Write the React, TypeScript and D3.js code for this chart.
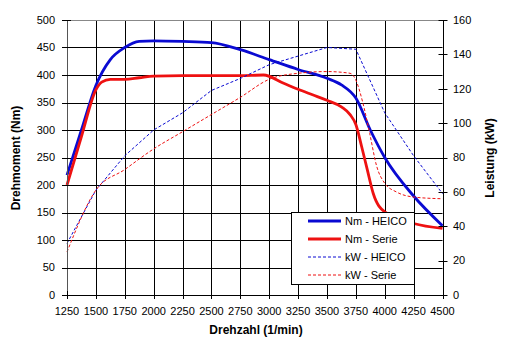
import React from "react";
import * as d3 from "d3";

const rpmTicks = [1250, 1500, 1750, 2000, 2250, 2500, 2750, 3000, 3250, 3500, 3750, 4000, 4250, 4500];
const nmTicks = [0, 50, 100, 150, 200, 250, 300, 350, 400, 450, 500];
const kwTicks = [0, 20, 40, 60, 80, 100, 120, 140, 160];

const rpmNmHeico = [1250, 1375, 1500, 1625, 1750, 1875, 2000, 2250, 2500, 2750, 3000, 3250, 3500, 3625, 3750, 3875, 4000, 4250, 4500];
const nmHeico = [218, 300, 381, 428, 450, 461, 462, 461, 459, 446, 428, 410, 394, 382, 358, 300, 250, 180, 126];

const rpmNmSerie = [1250, 1375, 1500, 1550, 1625, 1750, 1875, 2000, 2250, 2500, 2750, 2950, 3125, 3250, 3375, 3500, 3625, 3700, 3750, 3800, 3850, 3900, 4000, 4250, 4500];
const nmSerie = [200, 288, 373, 387, 392, 392, 395, 398, 399, 399, 399, 400, 385, 374, 364, 354, 342, 328, 310, 270, 227, 185, 151, 130, 121];

const rpmKwHeico = [1250, 1500, 1750, 2000, 2250, 2500, 2750, 3000, 3250, 3500, 3750, 4000, 4250, 4500];
const kwHeico = [30, 61, 81, 96, 106, 119, 126, 134, 139, 144, 143, 106, 81, 59];

const rpmKwSerie = [1250, 1500, 1750, 2000, 2250, 2500, 2750, 3000, 3250, 3500, 3700, 3750, 3810, 3870, 3930, 4000, 4100, 4250, 4500];
const kwSerie = [25, 61, 73, 85, 95, 105, 115, 125.5, 129, 130, 129, 125, 112, 94, 75, 65, 60, 57, 56];

const legendLabels = ["Nm - HEICO", "Nm - Serie", "kW - HEICO", "kW - Serie"];

const BLUE = "#0a0ad2";
const RED = "#ee1111";
const FONT = "'Liberation Sans', Arial, sans-serif";

export default function App() {
  const W = 511, H = 352;
  const x = d3.scaleLinear().domain([1250, 4500]).range([67, 442.5]);
  const yL = d3.scaleLinear().domain([0, 500]).range([295, 20]);
  const yR = d3.scaleLinear().domain([0, 160]).range([295, 20]);

  const mk = (xs: number[], ys: number[], ys2: (v: number) => number, curve: any) =>
    d3.line<number>().x((_, i) => x(xs[i])).y((v) => ys2(v)).curve(curve)(ys) || "";

  const series = [
    { d: mk(rpmNmHeico, nmHeico, yL, d3.curveMonotoneX), color: BLUE, w: 2.8, dash: undefined },
    { d: mk(rpmNmSerie, nmSerie, yL, d3.curveMonotoneX), color: RED, w: 2.8, dash: undefined },
    { d: mk(rpmKwHeico, kwHeico, yR, d3.curveLinear), color: BLUE, w: 1, dash: "3,2" },
    { d: mk(rpmKwSerie, kwSerie, yR, d3.curveMonotoneX), color: RED, w: 1, dash: "3,2" },
  ];

  const x0 = x(1250), x1 = x(4500), y0 = yL(0), y1 = yL(500);
  const lg = { x: 291, y: 212, w: 123, h: 72 };

  return (
    <svg width={W} height={H} style={{ position: "absolute", left: 0, top: 0, background: "#fff" }} fontFamily={FONT}>
      <rect x={0} y={0} width={W} height={H} fill="#fff" />
      {nmTicks.filter((t) => t > 0 && t < 500).map((t) => (
        <line key={"h" + t} x1={x0} x2={x1} y1={Math.round(yL(t)) + 0.5} y2={Math.round(yL(t)) + 0.5} stroke="#000" strokeWidth={1} />
      ))}
      {rpmTicks.filter((t) => t > 1250 && t < 4500).map((t) => (
        <line key={"v" + t} x1={Math.round(x(t)) + 0.5} x2={Math.round(x(t)) + 0.5} y1={y1} y2={y0} stroke="#000" strokeWidth={1} />
      ))}
      <line x1={x0} x2={x1} y1={Math.round(y1) + 0.5} y2={Math.round(y1) + 0.5} stroke="#888" strokeWidth={1} />
      {series.map((s, i) => (
        <path key={i} d={s.d} fill="none" stroke={s.color} strokeWidth={s.w} strokeDasharray={s.dash} strokeLinejoin="round" />
      ))}
      <line x1={Math.round(x0) + 0.5} x2={Math.round(x0) + 0.5} y1={y1} y2={y0} stroke="#555" strokeWidth={1} />
      <line x1={Math.round(x1) + 0.5} x2={Math.round(x1) + 0.5} y1={y1} y2={y0} stroke="#000" strokeWidth={1} />
      <line x1={x0} x2={x1} y1={Math.round(y0) + 0.5} y2={Math.round(y0) + 0.5} stroke="#000" strokeWidth={1} />
      {nmTicks.map((t) => (
        <g key={"l" + t}>
          <line x1={62} x2={71} y1={Math.round(yL(t)) + 0.5} y2={Math.round(yL(t)) + 0.5} stroke="#000" />
          <text x={55} y={yL(t)} dy="0.35em" textAnchor="end" fontSize={11}>{t}</text>
        </g>
      ))}
      {kwTicks.map((t) => (
        <g key={"r" + t}>
          <line x1={x1 - 4} x2={x1 + 5} y1={Math.round(yR(t)) + 0.5} y2={Math.round(yR(t)) + 0.5} stroke="#000" />
          <text x={453} y={yR(t)} dy="0.35em" textAnchor="start" fontSize={11}>{t}</text>
        </g>
      ))}
      {rpmTicks.map((t) => (
        <g key={"b" + t}>
          <line x1={Math.round(x(t)) + 0.5} x2={Math.round(x(t)) + 0.5} y1={y0 - 4} y2={y0 + 4} stroke="#000" />
          <text x={x(t)} y={315} textAnchor="middle" fontSize={11}>{t}</text>
        </g>
      ))}
      <text x={256} y={334} textAnchor="middle" fontSize={12} fontWeight="bold">Drehzahl (1/min)</text>
      <text transform={`translate(20,158) rotate(-90)`} textAnchor="middle" fontSize={12} fontWeight="bold">Drehmoment (Nm)</text>
      <text transform={`translate(494,158) rotate(-90)`} textAnchor="middle" fontSize={12} fontWeight="bold">Leistung (kW)</text>
      <rect x={lg.x + 0.5} y={lg.y + 0.5} width={lg.w} height={lg.h} fill="#fff" stroke="#000" strokeWidth={1} />
      {legendLabels.map((l, i) => {
        const yy = 221 + i * 18;
        const s = series[i];
        return (
          <g key={l}>
            <line x1={308} x2={341} y1={yy} y2={yy} stroke={s.color} strokeWidth={s.w} strokeDasharray={s.dash} />
            <text x={345} y={yy} dy="0.35em" fontSize={11}>{l}</text>
          </g>
        );
      })}
    </svg>
  );
}
